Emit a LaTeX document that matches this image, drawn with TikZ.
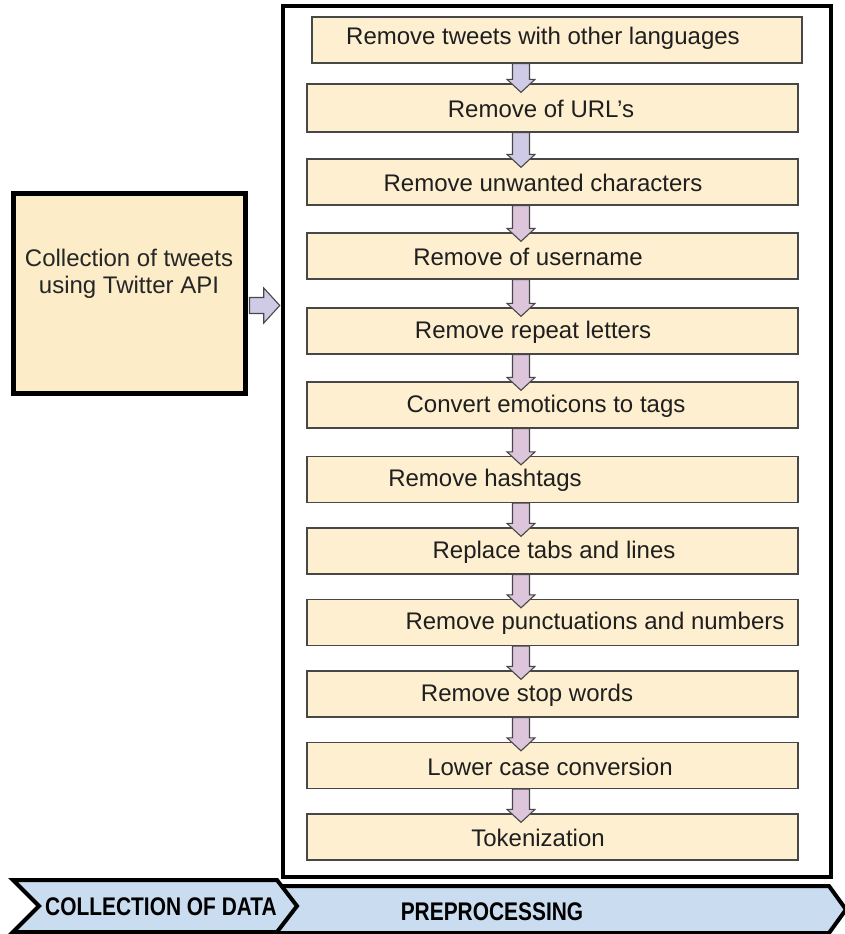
\documentclass[tikz,border=0pt]{standalone}
\usepackage{fontspec}
\setmainfont{Liberation Sans}
\usetikzlibrary{calc}

\definecolor{cream}{HTML}{FDEFCF}
\definecolor{creamL}{HTML}{FCECC8}
\definecolor{lav}{HTML}{CFCBE7}
\definecolor{pink}{HTML}{DDC5DB}
\definecolor{stagefill}{HTML}{CADCF0}
\definecolor{edge}{HTML}{474747}

\tikzset{
  stepbox/.style={draw=edge, line width=1.3pt, fill=cream, minimum width=491pt,
    minimum height=46pt, inner sep=0pt},
  steptext/.style={font=\fontsize{24}{28}\selectfont, text=black!88, inner sep=0pt},
  blockarr/.style={draw=edge, line width=1.1pt, line join=miter},
  stage/.style={draw=black, line width=4pt, fill=stagefill, line join=miter},
  stagetext/.style={font=\fontsize{25.5}{30}\selectfont\bfseries, inner sep=0pt}
}

% down block arrow from the bottom of #1 into the top of #2
\newcommand\flowarr[3]{%
  \draw[blockarr, fill=#3]
    ([xshift=-8.5pt]ax |- #1.south) --
    ([xshift=-8.5pt,yshift=4pt]ax |- #2.north) --
    ([xshift=-14pt,yshift=4pt]ax |- #2.north) --
    ([yshift=-9pt]ax |- #2.north) --
    ([xshift=14pt,yshift=4pt]ax |- #2.north) --
    ([xshift=8.5pt,yshift=4pt]ax |- #2.north) --
    ([xshift=8.5pt]ax |- #1.south) -- cycle;}

% one processing step: name, box centre y, text centre x, text
\newcommand\procstep[4]{%
  \node[stepbox] (#1) at (552.5,#2) {};
  \node[steptext] (#1t) at (#3,#2+1) {#4};}

\begin{document}
\begin{tikzpicture}[x=1pt,y=-1pt]
\useasboundingbox (0,0) rectangle (844,934);
\fill[white] (0,0) rectangle (844,934);

% outer frame of the preprocessing stage
\node[draw=black, line width=4.5pt, minimum width=548pt, minimum height=871pt,
  inner sep=0pt] (frame) at (557,441.5) {};

% data collection box
\node[draw=black, line width=5pt, fill=creamL, minimum width=232pt,
  minimum height=200pt, inner sep=0pt, align=center,
  font=\fontsize{24}{27.5}\selectfont, text=black!85] (collect) at (129,293)
  {Collection of tweets\\using Twitter API\\[16pt]};

% preprocessing steps
\node[stepbox, minimum width=490pt] (s1) at (557,40) {};
\node[steptext] (s1t) at (543,38) {Remove tweets with other languages};
\node[stepbox, minimum height=48pt] (s2) at (552.5,108) {};
\node[steptext] (s2t) at (541,109) {Remove of URL’s};
\procstep{s3}{182}{543}{Remove unwanted characters}
\procstep{s4}{256}{528}{Remove of username}
\procstep{s5}{331}{533}{Remove repeat letters}
\procstep{s6}{405}{546}{Convert emoticons to tags}
\procstep{s7}{479.5}{485}{Remove hashtags}
\procstep{s8}{551}{554}{Replace tabs and lines}
\procstep{s9}{622.5}{595}{Remove punctuations and numbers}
\procstep{s10}{694}{527}{Remove stop words}
\procstep{s11}{765.5}{550}{Lower case conversion}
\procstep{s12}{837}{538}{Tokenization}

% column of the down arrows
\coordinate (ax) at (521,0);
\flowarr{s1}{s2}{lav}
\flowarr{s2}{s3}{lav}
\flowarr{s3}{s4}{pink}
\flowarr{s4}{s5}{pink}
\flowarr{s5}{s6}{pink}
\flowarr{s6}{s7}{pink}
\flowarr{s7}{s8}{pink}
\flowarr{s8}{s9}{pink}
\flowarr{s9}{s10}{pink}
\flowarr{s10}{s11}{pink}
\flowarr{s11}{s12}{pink}

% arrow from the collection box into the frame
\coordinate (ay) at (0,305.5);
\draw[blockarr, fill=lav]
  ([xshift=2pt,yshift=8pt]collect.east |- ay) --
  ([xshift=-17pt,yshift=8pt]frame.west |- ay) --
  ([xshift=-17pt,yshift=17.5pt]frame.west |- ay) --
  ([xshift=-1pt]frame.west |- ay) --
  ([xshift=-17pt,yshift=-17.5pt]frame.west |- ay) --
  ([xshift=-17pt,yshift=-8pt]frame.west |- ay) --
  ([xshift=2pt,yshift=-8pt]collect.east |- ay) -- cycle;

% stage chevrons along the bottom
\draw[stage] (268,886) -- (829,886) -- (846,909.5) -- (829,933) -- (268,933)
  -- (288,909.5) -- cycle;
\draw[stage] (13,880) -- (277,880) -- (297,906) -- (277,932) -- (13,932)
  -- (39,906) -- cycle;
\node[stagetext] (lbl1) at (161,907) {\scalebox{0.82}[1]{COLLECTION OF DATA}};
\node[stagetext] (lbl2) at (492,912) {\scalebox{0.82}[1]{PREPROCESSING}};
\end{tikzpicture}
\end{document}
